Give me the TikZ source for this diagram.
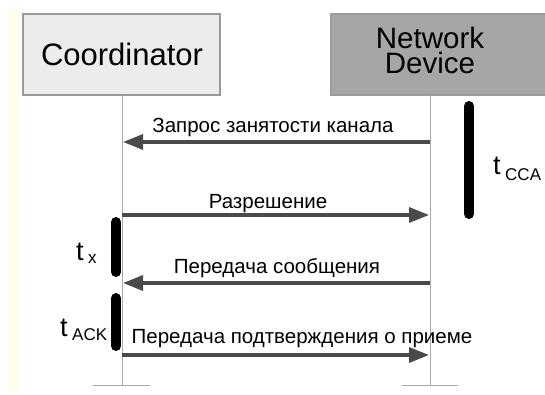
\documentclass[tikz,border=0pt]{standalone}
\usepackage{fontspec}
\setmainfont{Liberation Sans}
\usetikzlibrary{arrows.meta}
\definecolor{creamstrip}{HTML}{FFFDEB}
\definecolor{coordfill}{HTML}{ECECEC}
\definecolor{devfill}{HTML}{A6A6A6}
\definecolor{boxline}{HTML}{9A9A9A}
\definecolor{lifeline}{HTML}{A8A8A8}
\definecolor{msgline}{HTML}{4A4A4A}
\newcommand\subfnt{\fontsize{17}{17}\selectfont}
\tikzset{
  actor/.style={draw=boxline, line width=1.2pt},
  actortext/.style={font=\fontsize{31}{25}\selectfont, inner sep=0pt, anchor=base, align=center},
  devtext/.style={font=\fontsize{29.5}{25}\selectfont, inner sep=0pt, anchor=base},
  life/.style={draw=lifeline, line width=1pt},
  msg/.style={draw=msgline, line width=3.2pt, -{Triangle[length=20pt,width=15pt]}, shorten >=1pt},
  msgtext/.style={font=\fontsize{20.5}{20.5}\selectfont, inner sep=0pt, anchor=base},
  busy/.style={line width=10pt, line cap=round, black},
  timetext/.style={font=\fontsize{27}{27}\selectfont, inner sep=0pt, anchor=base west}
}
\begin{document}
\begin{tikzpicture}[x=1pt,y=-1pt]
\useasboundingbox (0,0) rectangle (545,394);
\clip (0,0) rectangle (545,394);
\fill[white] (0,0) rectangle (545,394);
% pale strip along the left edge
\fill[creamstrip] (8,10) rectangle (20,392);

% actor boxes
\path[actor, fill=coordfill] (23,14) rectangle (220,95);
\path[actor, fill=devfill] (331,14) rectangle (560,95);
\node[actortext] (coordlbl) at (122,65) {Coordinator};
\node[devtext] (devlbl1) at (430,48) {Network};
\node[devtext] (devlbl2) at (430,73) {Device};

% lifelines with end ticks
\coordinate (cTop) at (122,95);
\coordinate (cBot) at (122,385);
\coordinate (dTop) at (430,95);
\coordinate (dBot) at (430,385);
\coordinate (cTickL) at (93,385);
\coordinate (cTickR) at (150,385);
\coordinate (dTickL) at (402,385);
\coordinate (dTickR) at (458,385);
\draw[life] (cTop) -- (cBot);
\draw[life] (dTop) -- (dBot);
\draw[life] (cTickL) -- (cTickR);
\draw[life] (dTickL) -- (dTickR);

% messages
\coordinate (c1) at (122,142); \coordinate (d1) at (430,142);
\coordinate (c2) at (122,215); \coordinate (d2) at (430,215);
\coordinate (c3) at (122,283); \coordinate (d3) at (430,283);
\coordinate (c4) at (122,355); \coordinate (d4) at (430,355);
\draw[msg] (d1) -- (c1);
\draw[msg] (c2) -- (d2);
\draw[msg] (d3) -- (c3);
\draw[msg] (c4) -- (d4);
\node[msgtext] (m1) at (273,132) {Запрос занятости канала};
\node[msgtext] (m2) at (268,208) {Разрешение};
\node[msgtext] (m3) at (277,273) {Передача сообщения};
\node[msgtext] (m4) at (302,343) {Передача подтверждения о приеме};

% busy intervals
\coordinate (b1a) at (469,106); \coordinate (b1b) at (469,214);
\coordinate (b2a) at (116,222); \coordinate (b2b) at (116,272);
\coordinate (b3a) at (116,298); \coordinate (b3b) at (116,346);
\draw[busy] (b1a) -- (b1b);
\draw[busy] (b2a) -- (b2b);
\draw[busy] (b3a) -- (b3b);

% interval labels
\node[timetext] (tcca) at (493,174) {t\,\raisebox{-6pt}{\subfnt CCA}};
\node[timetext] (tx) at (76,260) {t\,\raisebox{-3pt}{\subfnt x}};
\node[timetext] (tack) at (60,336) {t\,\raisebox{-4pt}{\subfnt ACK}};
\end{tikzpicture}
\end{document}
